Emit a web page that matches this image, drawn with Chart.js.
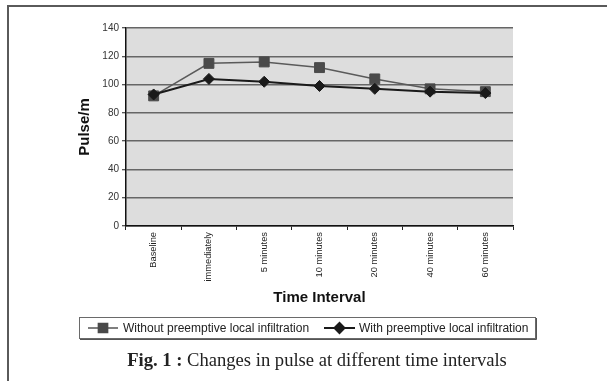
<!DOCTYPE html>
<html>
<head>
<meta charset="utf-8">
<script src="https://cdn.jsdelivr.net/npm/chart.js@4.4.1/dist/chart.umd.min.js"></script>
<style>
  html, body { margin: 0; padding: 0; background: #fff; }
  #wrap { position: relative; width: 607px; height: 381px; overflow: hidden; }
  #c { position: absolute; left: 0; top: 0; }
  #frame { position: absolute; left: 7px; top: 5px; width: 620px; height: 400px;
           border-left: 2px solid #5a5a5a; border-top: 2px solid #5a5a5a; }
  #caption { position: absolute; left: 0; width: 634px; top: 349px; text-align: center;
             font-family: "Liberation Serif", "Times New Roman", serif; font-size: 18.6px; color: #222; }
</style>
</head>
<body>
<div id="wrap">
  <canvas id="c" width="607" height="381"></canvas>
  <div id="frame"></div>
  <div id="caption"><b>Fig. 1 :</b> Changes in pulse at different time intervals</div>
</div>
<script>
const categories = ["Baseline", "immediately", "5 minutes", "10 minutes", "20 minutes", "40 minutes", "60 minutes"];
const withoutValues = [92, 115, 116, 112, 104, 97, 95];
const withValues = [93, 104, 102, 99, 97, 95, 94];
const seriesNames = ["Without preemptive local infiltration", "With preemptive local infiltration"];
const yTicks = [0, 20, 40, 60, 80, 100, 120, 140];

const bgPlugin = {
  id: 'plotBg',
  beforeDraw(chart) {
    const {ctx, chartArea: a} = chart;
    ctx.save();
    ctx.fillStyle = '#dddddd';
    ctx.fillRect(a.left, a.top, a.right - a.left, a.bottom - a.top);
    ctx.restore();
  }
};

const legendPlugin = {
  id: 'boxLegend',
  afterDraw(chart) {
    const ctx = chart.ctx;
    ctx.save();
    ctx.strokeStyle = '#6a6a6a';
    ctx.lineWidth = 1;
    ctx.strokeRect(79.5, 317.5, 456, 21);
    ctx.strokeStyle = '#555';
    ctx.beginPath();
    ctx.moveTo(80, 339.5); ctx.lineTo(536.5, 339.5); ctx.lineTo(536.5, 318);
    ctx.stroke();
    const y = 328;
    const items = [
      {x0: 88, x1: 118, tx: 123, color: '#555555', mcolor: '#4a4a4a', style: 'rect', r: 6.5, lw: 1.5},
      {x0: 324, x1: 355, tx: 359, color: '#1a1a1a', mcolor: '#1a1a1a', style: 'rectRot', r: 5, lw: 2}
    ];
    items.forEach((it, i) => {
      ctx.strokeStyle = it.color;
      ctx.lineWidth = it.lw;
      ctx.beginPath(); ctx.moveTo(it.x0, y); ctx.lineTo(it.x1, y); ctx.stroke();
      ctx.fillStyle = it.mcolor;
      ctx.strokeStyle = it.mcolor;
      Chart.helpers.drawPoint(ctx, {pointStyle: it.style, radius: it.r, borderWidth: 1, rotation: 0}, (it.x0 + it.x1) / 2, y);
      ctx.fillStyle = '#222';
      ctx.font = '12px "Liberation Sans", Arial, sans-serif';
      ctx.textBaseline = 'middle';
      ctx.textAlign = 'left';
      ctx.fillText(seriesNames[i], it.tx, y + 0.5);
    });
    ctx.restore();
  }
};

new Chart(document.getElementById('c'), {
  type: 'line',
  data: {
    labels: categories,
    datasets: [
      {
        label: seriesNames[0], data: withoutValues, order: 1,
        borderColor: '#5a5a5a', borderWidth: 1.5,
        pointStyle: 'rect', pointRadius: 7, pointHoverRadius: 7,
        pointBackgroundColor: '#4a4a4a', pointBorderColor: '#4a4a4a', pointBorderWidth: 1,
        tension: 0, fill: false
      },
      {
        label: seriesNames[1], data: withValues, order: 0,
        borderColor: '#1a1a1a', borderWidth: 2,
        pointStyle: 'rectRot', pointRadius: 5.5, pointHoverRadius: 5.5,
        pointBackgroundColor: '#1a1a1a', pointBorderColor: '#1a1a1a', pointBorderWidth: 1,
        tension: 0, fill: false
      }
    ]
  },
  options: {
    responsive: false,
    animation: false,
    devicePixelRatio: 1,
    layout: { padding: { left: 70, top: 28, right: 94, bottom: 70 } },
    plugins: { legend: { display: false }, tooltip: { enabled: false }, title: { display: false } },
    scales: {
      x: {
        offset: true,
        afterFit(scale) { scale.height = 85; },
        grid: { offset: true, drawOnChartArea: false, drawTicks: true, tickLength: 4, tickColor: '#222', tickWidth: 1 },
        border: { display: true, color: '#111', width: 1.5 },
        ticks: {
          autoSkip: false, maxRotation: 90, minRotation: 90, padding: 2,
          color: '#222', font: { family: '"Liberation Sans", Arial, sans-serif', size: 9.3 }
        },
        title: {
          display: true, text: 'Time Interval', color: '#111',
          font: { family: '"Liberation Sans", Arial, sans-serif', size: 15, weight: 'bold' },
          padding: { top: 0, bottom: 4 }
        }
      },
      y: {
        min: 0, max: 140,
        afterFit(scale) { scale.width = 56; },
        afterBuildTicks(scale) { scale.ticks = yTicks.map(v => ({ value: v })); },
        grid: { color: '#666', lineWidth: 1.5, drawTicks: true, tickLength: 4, tickColor: '#222', tickWidth: 1 },
        border: { display: true, color: '#111', width: 1.5 },
        ticks: {
          stepSize: 20, padding: 3, color: '#333',
          font: { family: '"Liberation Sans", Arial, sans-serif', size: 10 }
        },
        title: {
          display: true, text: 'Pulse/m', color: '#111',
          font: { family: '"Liberation Sans", Arial, sans-serif', size: 15, weight: 'bold' },
          padding: { top: 6, bottom: 0 }
        }
      }
    }
  },
  plugins: [bgPlugin, legendPlugin]
});
</script>
</body>
</html>
